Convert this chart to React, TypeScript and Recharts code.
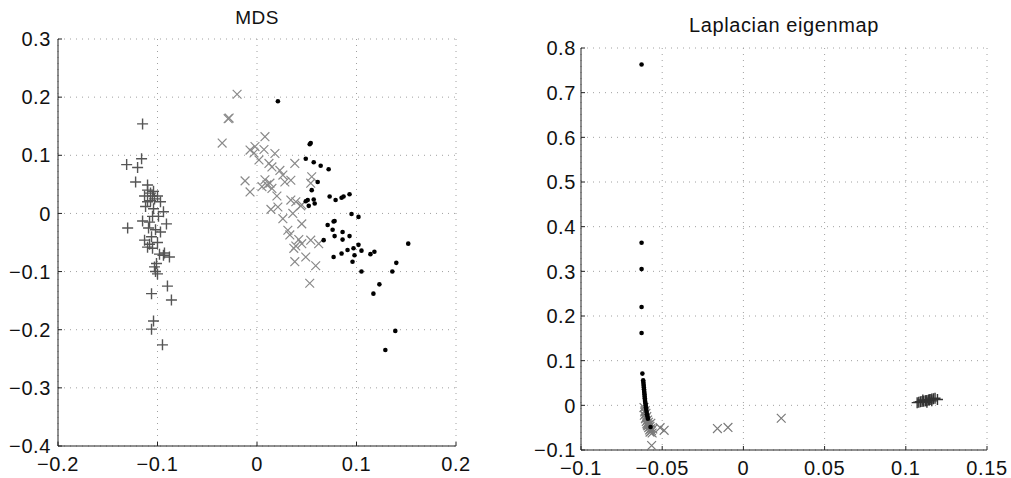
import React from "react";
import { ScatterChart, Scatter, XAxis, YAxis, CartesianGrid } from "recharts";

// ---------- MDS panel data ----------
const mdsPlus: [number, number][] = [
  [-0.115, 0.154], [-0.116, 0.094], [-0.131, 0.084], [-0.12, 0.079], [-0.122, 0.054],
  [-0.11, 0.049], [-0.11, 0.04], [-0.107, 0.035], [-0.113, 0.03], [-0.105, 0.03],
  [-0.1, 0.03], [-0.11, 0.02], [-0.103, 0.025], [-0.097, 0.02], [-0.112, 0.012],
  [-0.104, 0.008], [-0.094, 0.003], [-0.105, -0.005], [-0.13, -0.025], [-0.115, -0.013],
  [-0.091, -0.018], [-0.102, -0.028], [-0.097, -0.032], [-0.109, -0.025], [-0.113, -0.046],
  [-0.108, -0.053], [-0.11, -0.058], [-0.105, -0.06], [-0.098, -0.07], [-0.094, -0.072],
  [-0.088, -0.075], [-0.101, -0.086], [-0.103, -0.092], [-0.102, -0.1], [-0.1, -0.104],
  [-0.09, -0.125], [-0.106, -0.138], [-0.086, -0.149], [-0.104, -0.185], [-0.106, -0.199],
  [-0.095, -0.226], [-0.093, -0.068], [-0.1, -0.05], [-0.106, -0.04], [-0.108, -0.015],
  [-0.099, -0.005], [-0.107, 0.022], [-0.104, 0.038],
];
const mdsCross: [number, number][] = [
  [-0.02, 0.205], [-0.029, 0.163], [-0.028, 0.164], [-0.035, 0.121], [0.008, 0.132],
  [-0.007, 0.109], [-0.002, 0.115], [-0.003, 0.104], [0.007, 0.11], [0.018, 0.103],
  [0.002, 0.092], [0.012, 0.086], [0.015, 0.08], [0.023, 0.074], [0.038, 0.086],
  [-0.012, 0.056], [-0.007, 0.037], [0.008, 0.058], [0.01, 0.049], [0.013, 0.052],
  [0.005, 0.046], [0.015, 0.043], [0.026, 0.066], [0.028, 0.054], [0.034, 0.057],
  [0.055, 0.063], [0.054, 0.052], [0.014, 0.007], [0.021, 0.011], [0.034, 0.023],
  [0.039, 0.02], [0.044, 0.013], [0.036, 0.0], [0.026, -0.009], [0.045, -0.018],
  [0.031, -0.029], [0.033, -0.037], [0.042, -0.045], [0.045, -0.052], [0.037, -0.06],
  [0.039, -0.056], [0.054, -0.046], [0.062, -0.052], [0.049, -0.075], [0.038, -0.083],
  [0.059, -0.09], [0.053, -0.12], [0.02, 0.03], [0.045, 0.015],
];
const mdsDot: [number, number][] = [
  [0.021, 0.193], [0.054, 0.121], [0.053, 0.119], [0.049, 0.094], [0.057, 0.088],
  [0.064, 0.082], [0.072, 0.076], [0.061, 0.054], [0.049, 0.021], [0.051, 0.023],
  [0.057, 0.024], [0.058, 0.017], [0.052, 0.013], [0.055, 0.04], [0.073, 0.029],
  [0.079, 0.023], [0.085, 0.027], [0.087, 0.029], [0.093, 0.033], [0.095, -0.001],
  [0.102, -0.006], [0.077, -0.014], [0.078, -0.013], [0.071, -0.02], [0.076, -0.028],
  [0.078, -0.039], [0.086, -0.032], [0.093, -0.039], [0.086, -0.045], [0.067, -0.046],
  [0.091, -0.063], [0.085, -0.069], [0.077, -0.075], [0.097, -0.06], [0.098, -0.072],
  [0.102, -0.054], [0.105, -0.064], [0.096, -0.083], [0.105, -0.1], [0.114, -0.07],
  [0.118, -0.066], [0.152, -0.052], [0.14, -0.085], [0.136, -0.1], [0.123, -0.122],
  [0.117, -0.138], [0.139, -0.202], [0.129, -0.235],
];
const mdsXTicks = [-0.2, -0.1, 0, 0.1, 0.2];
const mdsYTicks = [-0.4, -0.3, -0.2, -0.1, 0, 0.1, 0.2, 0.3];

// ---------- Laplacian eigenmap panel data ----------
const lapPlus: [number, number][] = [
  [0.107, 0.006], [0.108, 0.007], [0.109, 0.008], [0.11, 0.0085], [0.111, 0.009],
  [0.112, 0.01], [0.1125, 0.0105], [0.113, 0.011], [0.114, 0.012], [0.1145, 0.0125],
  [0.115, 0.013], [0.116, 0.014], [0.117, 0.015], [0.118, 0.016], [0.1195, 0.013],
  [0.1105, 0.012], [0.113, 0.007], [0.116, 0.01],
];
const lapCross: [number, number][] = [
  [-0.0612, -0.005], [-0.0608, -0.015], [-0.0605, -0.012], [-0.06, -0.018], [-0.061, -0.022],
  [-0.0595, -0.025], [-0.0603, -0.03], [-0.06, -0.028], [-0.059, -0.033], [-0.0598, -0.036],
  [-0.0585, -0.038], [-0.057, -0.04], [-0.0594, -0.041], [-0.058, -0.043], [-0.0592, -0.044],
  [-0.0588, -0.046], [-0.0575, -0.047], [-0.0583, -0.05], [-0.057, -0.052], [-0.0558, -0.053],
  [-0.0578, -0.055], [-0.0566, -0.057], [-0.0575, -0.06], [-0.0562, -0.062], [-0.0513, -0.05],
  [-0.0488, -0.056], [-0.0565, -0.09], [-0.016, -0.052], [-0.0095, -0.0495], [0.0233, -0.029],
];
const lapDot: [number, number][] = [
  [-0.0627, 0.763], [-0.0627, 0.364], [-0.0627, 0.305], [-0.0627, 0.22], [-0.0627, 0.162],
  [-0.0622, 0.071], [-0.0617, 0.056], [-0.0616, 0.052], [-0.0615, 0.048], [-0.0614, 0.044],
  [-0.0613, 0.04], [-0.0612, 0.036], [-0.0611, 0.032], [-0.061, 0.028], [-0.0609, 0.024],
  [-0.0608, 0.02], [-0.0607, 0.016], [-0.0606, 0.012], [-0.0605, 0.008], [-0.0603, 0.004],
  [-0.0602, 0.0], [-0.06, -0.005], [-0.0598, -0.01], [-0.0596, -0.015], [-0.0594, -0.02],
  [-0.0591, -0.025], [-0.0588, -0.03], [-0.0572, -0.0485],
];
const lapXTicks = [-0.1, -0.05, 0, 0.05, 0.1, 0.15];
const lapYTicks = [-0.1, 0, 0.1, 0.2, 0.3, 0.4, 0.5, 0.6, 0.7, 0.8];

const toPts = (a: [number, number][]) => a.map(([x, y]) => ({ x, y }));

const fmt = (v: number) => (v === 0 ? "0" : (v < 0 ? "\u2212" : "") + String(Math.abs(v)));

const FONT = "'Liberation Sans', Arial, Helvetica, sans-serif";

const PlusShape = (color: string) => (p: any) => {
  const { cx, cy } = p;
  if (cx == null || cy == null) return <g />;
  return (
    <path
      d={`M${cx - 5.5},${cy}h11M${cx},${cy - 5.5}v11`}
      stroke={color}
      strokeWidth={1.4}
      fill="none"
    />
  );
};
const CrossShape = (color: string) => (p: any) => {
  const { cx, cy } = p;
  if (cx == null || cy == null) return <g />;
  const s = 4.4;
  return (
    <path
      d={`M${cx - s},${cy - s}L${cx + s},${cy + s}M${cx - s},${cy + s}L${cx + s},${cy - s}`}
      stroke={color}
      strokeWidth={1.2}
      fill="none"
    />
  );
};
const DotShape = (p: any) => {
  const { cx, cy } = p;
  if (cx == null || cy == null) return <g />;
  return <circle cx={cx} cy={cy} r={2.3} fill="#000" />;
};

const XTick = (p: any) => (
  <text
    x={p.x}
    y={p.y}
    dy="0.72em"
    textAnchor="middle"
    fontSize={20}
    letterSpacing={0.6}
    fontFamily={FONT}
    fill="#111"
  >
    {fmt(p.payload.value)}
  </text>
);
const YTick = (p: any) => (
  <text
    x={p.x}
    y={p.y}
    dy="0.36em"
    textAnchor="end"
    fontSize={20}
    letterSpacing={0.6}
    fontFamily={FONT}
    fill="#111"
  >
    {fmt(p.payload.value)}
  </text>
);

export default function App() {
  return (
    <div
      style={{
        position: "absolute",
        left: 0,
        top: 0,
        width: 1011,
        height: 478,
        background: "#fff",
        fontFamily: FONT,
      }}
    >
      <div
        style={{
          position: "absolute",
          left: 157,
          width: 200,
          top: 7,
          textAlign: "center",
          fontSize: 19,
          letterSpacing: 0.5,
          color: "#111",
        }}
      >
        MDS
      </div>
      <div
        style={{
          position: "absolute",
          left: 634,
          width: 300,
          top: 14,
          textAlign: "center",
          fontSize: 20,
          letterSpacing: 0.6,
          color: "#111",
        }}
      >
        Laplacian eigenmap
      </div>

      <div style={{ position: "absolute", left: 0, top: 0 }}>
        <ScatterChart width={480} height={478} margin={{ top: 39, right: 24, left: 8, bottom: 0 }}>
          <CartesianGrid stroke="#a0a0a0" strokeDasharray="1 5" />
          <XAxis
            type="number"
            dataKey="x"
            domain={[-0.2, 0.2]}
            ticks={mdsXTicks}
            height={32}
            tickSize={-4}
            tickMargin={15}
            tick={XTick}
            axisLine={{ stroke: "#222" }}
            tickLine={{ stroke: "#222" }}
            allowDataOverflow
            interval={0}
          />
          <YAxis
            type="number"
            dataKey="y"
            domain={[-0.4, 0.3]}
            ticks={mdsYTicks}
            width={50}
            tickSize={-4}
            tickMargin={11}
            tick={YTick}
            axisLine={{ stroke: "#222" }}
            tickLine={{ stroke: "#222" }}
            allowDataOverflow
            interval={0}
          />
          <Scatter data={toPts(mdsPlus)} shape={PlusShape("#555")} isAnimationActive={false} />
          <Scatter data={toPts(mdsCross)} shape={CrossShape("#8a8a8a")} isAnimationActive={false} />
          <Scatter data={toPts(mdsDot)} shape={DotShape} isAnimationActive={false} />
        </ScatterChart>
      </div>

      <div style={{ position: "absolute", left: 520, top: 0 }}>
        <ScatterChart width={491} height={478} margin={{ top: 48, right: 24, left: 11, bottom: 0 }}>
          <CartesianGrid stroke="#a0a0a0" strokeDasharray="1 5" />
          <XAxis
            type="number"
            dataKey="x"
            domain={[-0.1, 0.15]}
            ticks={lapXTicks}
            height={28}
            tickSize={-4}
            tickMargin={15}
            tick={XTick}
            axisLine={{ stroke: "#222" }}
            tickLine={{ stroke: "#222" }}
            allowDataOverflow
            interval={0}
          />
          <YAxis
            type="number"
            dataKey="y"
            domain={[-0.1, 0.8]}
            ticks={lapYTicks}
            width={50}
            tickSize={-4}
            tickMargin={9}
            tick={YTick}
            axisLine={{ stroke: "#222" }}
            tickLine={{ stroke: "#222" }}
            allowDataOverflow
            interval={0}
          />
          <Scatter data={toPts(lapPlus)} shape={PlusShape("#333")} isAnimationActive={false} />
          <Scatter data={toPts(lapCross)} shape={CrossShape("#7a7a7a")} isAnimationActive={false} />
          <Scatter data={toPts(lapDot)} shape={DotShape} isAnimationActive={false} />
        </ScatterChart>
      </div>
    </div>
  );
}
